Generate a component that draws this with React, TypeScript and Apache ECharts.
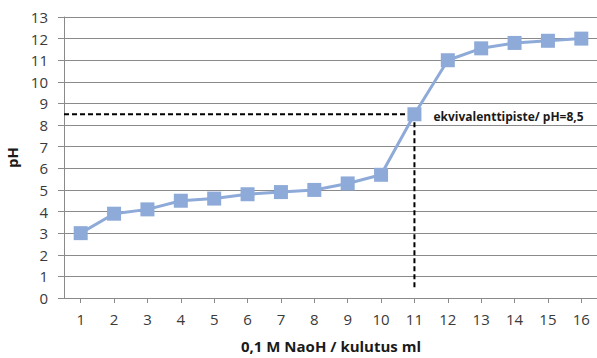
import React, { useEffect, useRef } from "react";
import * as echarts from "echarts";

// Titration of acid with 0.1 M NaOH: consumed volume (ml) vs. measured pH
const volumes: string[] = ["1", "2", "3", "4", "5", "6", "7", "8", "9", "10", "11", "12", "13", "14", "15", "16"];
const phValues: number[] = [3.0, 3.9, 4.1, 4.5, 4.6, 4.8, 4.9, 5.0, 5.3, 5.7, 8.5, 11.0, 11.55, 11.8, 11.9, 12.0];
const yTicks = { min: 0, max: 13, interval: 1 };

// Equivalence point and the guide lines drawn to it
const equivalenceVolume = 11;
const equivalencePH = 8.5;
const guideStartVolume = 0.5; // left edge of the category band
const guideBottomPH = 0.45;

const TEXT = "#3a3a3a";
const GRID = "#8a8a8a";
const SERIES = "#8eaad8";
const FONT = "'Open Sans', sans-serif";

export default function App() {
  const ref = useRef<HTMLDivElement>(null);

  useEffect(() => {
    if (!ref.current) return;
    const chart = echarts.init(ref.current, undefined, { renderer: "svg" });
    const eqIndex = volumes.indexOf(String(equivalenceVolume));

    chart.setOption({
      animation: false,
      textStyle: { fontFamily: FONT },
      grid: { left: 64, right: -1, top: 17, bottom: 60, containLabel: false, outerBoundsMode: "none" },
      xAxis: [
        {
          type: "category",
          data: volumes,
          boundaryGap: true,
          name: "0,1 M NaoH / kulutus ml",
          nameLocation: "middle",
          nameGap: 40,
          nameTextStyle: { fontFamily: FONT, fontWeight: "bold", fontSize: 15, color: "#1a1a1a" },
          axisLine: { lineStyle: { color: GRID, width: 1 } },
          axisTick: { show: true, alignWithLabel: true, length: 5, lineStyle: { color: GRID } },
          axisLabel: { fontFamily: FONT, fontSize: 15, color: TEXT, margin: 13 },
          splitLine: { show: false },
        },
        {
          type: "value",
          min: guideStartVolume,
          max: volumes.length + 0.5,
          show: false,
        },
      ],
      yAxis: {
        type: "value",
        min: yTicks.min,
        max: yTicks.max,
        interval: yTicks.interval,
        name: "pH",
        nameLocation: "middle",
        nameGap: 42,
        nameTextStyle: { fontFamily: FONT, fontWeight: "bold", fontSize: 15, color: "#1a1a1a" },
        axisLine: { show: true, lineStyle: { color: GRID, width: 1 } },
        axisTick: { show: true, length: 6, lineStyle: { color: GRID } },
        axisLabel: { fontFamily: FONT, fontSize: 15, color: TEXT, margin: 16 },
        splitLine: { show: true, lineStyle: { color: GRID, width: 1 } },
      },
      series: [
        {
          name: "Vaakaviiva",
          type: "line",
          xAxisIndex: 1,
          data: [
            [guideStartVolume, equivalencePH],
            [equivalenceVolume, equivalencePH],
          ],
          symbol: "none",
          lineStyle: { color: "#000", width: 2, type: [5, 3] },
          silent: true,
          z: 3,
        },
        {
          name: "Pystyviiva",
          type: "line",
          xAxisIndex: 1,
          data: [
            [equivalenceVolume, equivalencePH],
            [equivalenceVolume, guideBottomPH],
          ],
          symbol: "none",
          lineStyle: { color: "#000", width: 2, type: [5, 3] },
          silent: true,
          z: 3,
        },
        {
          name: "pH",
          type: "line",
          data: phValues.map((v, i) =>
            i === eqIndex
              ? {
                  value: v,
                  label: {
                    show: true,
                    position: "right",
                    distance: 12,
                    offset: [0, 2],
                    formatter: (p: any) => `ekvivalenttipiste/ pH=${String(p.value).replace(".", ",")}`,
                    fontFamily: FONT,
                    fontSize: 12,
                    fontWeight: "bold",
                    color: "#1a1a1a",
                  },
                }
              : v
          ),
          symbol: "rect",
          symbolSize: 14,
          itemStyle: { color: SERIES },
          lineStyle: { color: SERIES, width: 3 },
          z: 4,
        },
      ],
    });

    return () => chart.dispose();
  }, []);

  return (
    <div
      ref={ref}
      style={{ position: "absolute", left: 0, top: 0, width: 597, height: 358, background: "#fff" }}
    />
  );
}
